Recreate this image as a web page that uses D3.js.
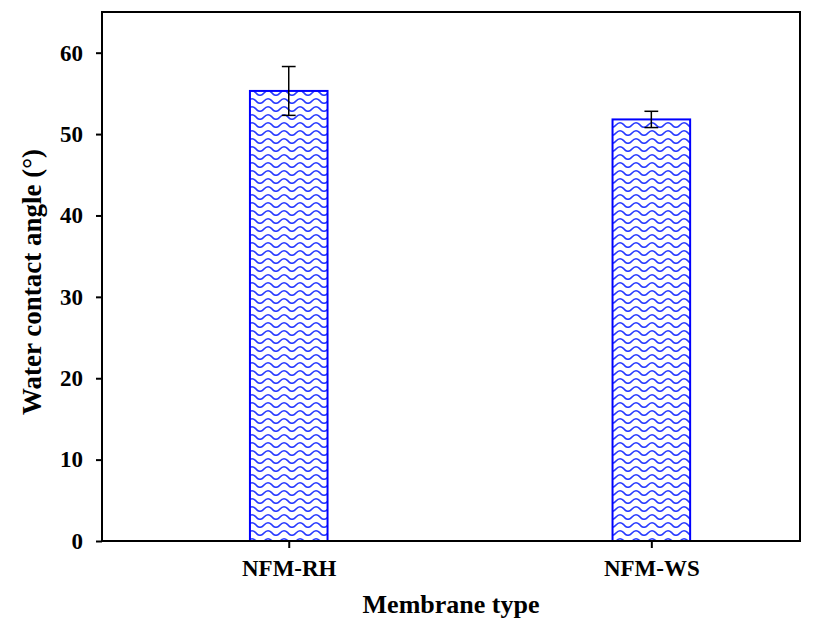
<!DOCTYPE html>
<html>
<head>
<meta charset="utf-8">
<script src="https://cdn.jsdelivr.net/npm/d3@7"></script>
<style>
  html, body { margin: 0; padding: 0; background: #fff; }
  svg { display: block; font-family: "Liberation Serif", "Times New Roman", serif; font-weight: bold; }
</style>
</head>
<body>
<svg id="chart" width="824" height="622"></svg>
<script>
// Water contact angle of the two membranes (mean and standard deviation, degrees)
const categories = ["NFM-RH", "NFM-WS"];
const angleMean = [55.3, 51.8];
const angleErr = [3.0, 1.0];
const yTicks = [0, 10, 20, 30, 40, 50, 60];

const W = 824, H = 622;
const margin = { left: 102, right: 24, top: 12, bottom: 81 };
const svg = d3.select("#chart");

const x = d3.scaleLinear()
  .domain([0.485, 2.41])
  .range([margin.left, W - margin.right]);
const y = d3.scaleLinear()
  .domain([0, 65])
  .range([H - margin.bottom, margin.top]);

const barHalf = 0.107; // half bar width in category units

// wavy hatch fill
const defs = svg.append("defs");
const pat = defs.append("pattern")
  .attr("id", "wave")
  .attr("patternUnits", "userSpaceOnUse")
  .attr("width", 16).attr("height", 8);
pat.append("rect").attr("width", 16).attr("height", 8).attr("fill", "#fff");
pat.append("path")
  .attr("d", "M-8,5 Q-4,0.5 0,5 Q4,9.5 8,5 Q12,0.5 16,5 Q20,9.5 24,5")
  .attr("fill", "none")
  .attr("stroke", "#2a3cff")
  .attr("stroke-width", 1.7);

const plot = svg.append("g");

// bars
plot.selectAll("rect.bar")
  .data(categories)
  .join("rect")
  .attr("class", "bar")
  .attr("x", (d, i) => x(i + 1 - barHalf))
  .attr("width", (d, i) => x(i + 1 + barHalf) - x(i + 1 - barHalf))
  .attr("y", (d, i) => y(angleMean[i]))
  .attr("height", (d, i) => y(0) - y(angleMean[i]))
  .attr("fill", "url(#wave)")
  .attr("stroke", "#0000ff")
  .attr("stroke-width", 2);

// error bars
const capHalf = 0.019;
const eb = plot.selectAll("g.err").data(categories).join("g").attr("class", "err")
  .attr("stroke", "#000").attr("stroke-width", 1.5);
eb.append("line")
  .attr("x1", (d, i) => x(i + 1)).attr("x2", (d, i) => x(i + 1))
  .attr("y1", (d, i) => y(angleMean[i] - angleErr[i]))
  .attr("y2", (d, i) => y(angleMean[i] + angleErr[i]));
eb.append("line")
  .attr("x1", (d, i) => x(i + 1 - capHalf)).attr("x2", (d, i) => x(i + 1 + capHalf))
  .attr("y1", (d, i) => y(angleMean[i] + angleErr[i]))
  .attr("y2", (d, i) => y(angleMean[i] + angleErr[i]));
eb.append("line")
  .attr("x1", (d, i) => x(i + 1 - capHalf)).attr("x2", (d, i) => x(i + 1 + capHalf))
  .attr("y1", (d, i) => y(angleMean[i] - angleErr[i]))
  .attr("y2", (d, i) => y(angleMean[i] - angleErr[i]));

// frame
svg.append("rect")
  .attr("x", x.range()[0]).attr("y", y.range()[1])
  .attr("width", x.range()[1] - x.range()[0])
  .attr("height", y.range()[0] - y.range()[1])
  .attr("fill", "none").attr("stroke", "#000").attr("stroke-width", 2);

// axes
const yAxis = svg.append("g")
  .attr("transform", `translate(${margin.left},0)`)
  .call(d3.axisLeft(y).tickValues(yTicks).tickSize(6).tickPadding(13).tickFormat(d3.format("d")));
const xAxis = svg.append("g")
  .attr("transform", `translate(0,${H - margin.bottom})`)
  .call(d3.axisBottom(x).tickValues([1, 2]).tickSize(7).tickPadding(12)
    .tickFormat((d) => categories[d - 1]));
[yAxis, xAxis].forEach((g) => {
  g.select(".domain").remove();
  g.selectAll(".tick line").attr("stroke", "#000").attr("stroke-width", 2);
  g.selectAll(".tick text")
    .attr("fill", "#000")
    .style("font-family", '"Liberation Serif", "Times New Roman", serif')
    .style("font-weight", "bold")
    .style("font-size", "23px");
});

// axis titles
svg.append("text")
  .attr("x", (x.range()[0] + x.range()[1]) / 2)
  .attr("y", 613)
  .attr("text-anchor", "middle")
  .style("font-size", "26px")
  .text("Membrane type");
svg.append("text")
  .attr("transform", `translate(41,282) rotate(-90)`)
  .attr("text-anchor", "middle")
  .style("font-size", "27px")
  .text("Water contact angle (°)");
</script>
</body>
</html>
